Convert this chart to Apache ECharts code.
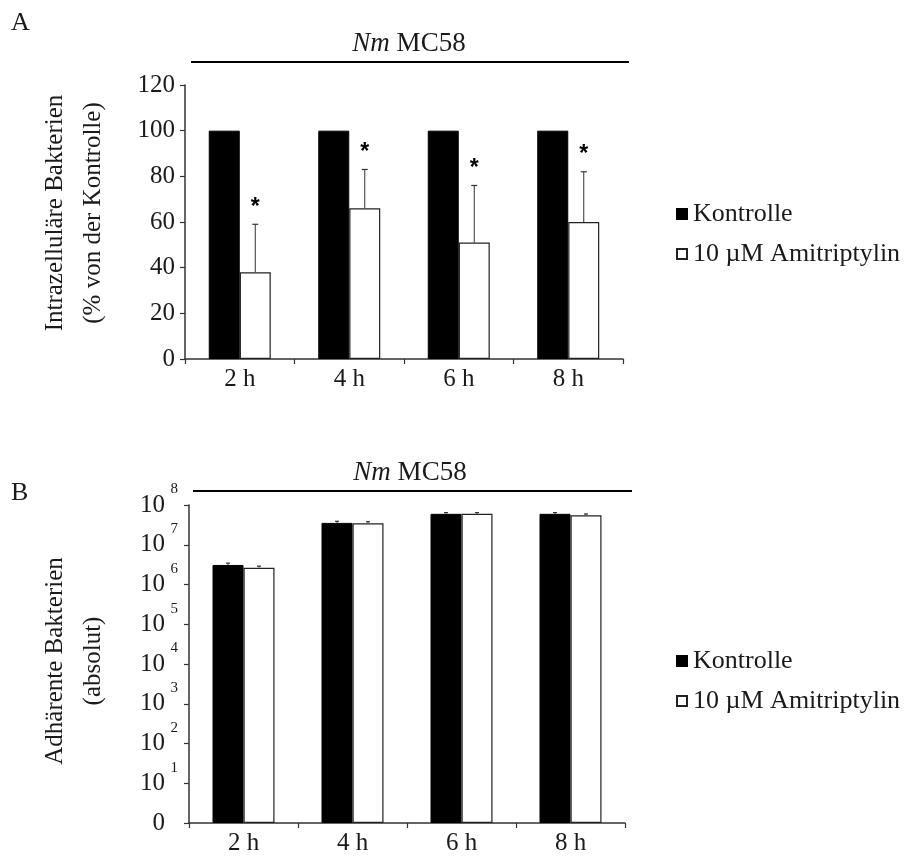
<!DOCTYPE html>
<html>
<head>
<meta charset="utf-8">
<script src="https://cdn.jsdelivr.net/npm/echarts@6/dist/echarts.min.js"></script>
<style>html,body{margin:0;padding:0;background:#fff}#c{width:911px;height:856px}</style>
</head>
<body>
<div id="c"></div>
<script>
// ---- data ----
const categories = ['2 h', '4 h', '6 h', '8 h'];
const seriesNames = ['Kontrolle', '10 µM Amitriptylin'];
// Panel A: intracellular bacteria (% of control)
const intraKontrolle = [100, 100, 100, 100];
const intraAmi = [38, 66, 51, 60];
const intraAmiSD = [21, 17, 25, 22];
const intraAmiSig = ['*', '*', '*', '*'];
const intraTicks = [0, 20, 40, 60, 80, 100, 120];
// Panel B: adherent bacteria (absolute, log scale)
const adhKontrolle = [3.1e6, 3.55e7, 6.0e7, 6.0e7];
const adhKontrolleSD = [0.35e6, 3.5e6, 4.5e6, 4.5e6];
const adhAmi = [2.65e6, 3.45e7, 6.0e7, 5.5e7];
const adhAmiSD = [0.25e6, 3.5e6, 4.5e6, 4.5e6];
const logExponents = [0, 1, 2, 3, 4, 5, 6, 7, 8];

const FONT = "'Liberation Serif', 'DejaVu Serif', serif";
const TXT = '#1a1a1a';
const BARW = 31;

function errSeries(name, xi, yi, means, sds, side, stars, capW, color) {
  return {
    name: name + ' SD', type: 'custom', xAxisIndex: xi, yAxisIndex: yi, z: 5,
    silent: true, legendHoverLink: false,
    data: means.map((m, i) => [i, m, m + sds[i]]),
    renderItem: function (params, api) {
      const p0 = api.coord([api.value(0), api.value(1)]);
      const p1 = api.coord([api.value(0), api.value(2)]);
      const x = p0[0] + side * BARW / 2;
      const children = [
        { type: 'line', shape: { x1: x, y1: p0[1], x2: x, y2: p1[1] }, style: { stroke: color, lineWidth: 1 } },
        { type: 'line', shape: { x1: x - capW / 2, y1: p1[1], x2: x + capW / 2, y2: p1[1] }, style: { stroke: color, lineWidth: 1.2 } }
      ];
      if (stars) {
        children.push({ type: 'text', x: x, y: p1[1] - 17,
          style: { text: stars[params.dataIndex], font: "bold 23px 'Liberation Sans', sans-serif", fill: '#000', align: 'center', verticalAlign: 'middle' } });
      }
      return { type: 'group', children: children };
    }
  };
}

const chart = echarts.init(document.getElementById('c'), null, { renderer: 'canvas' });

const axisLine = { show: true, lineStyle: { color: '#333', width: 1.5 } };
const catAxis = (gi) => ({
  type: 'category', gridIndex: gi, data: categories,
  axisLine: axisLine,
  axisTick: { show: true, length: 5, lineStyle: { color: '#333', width: 1.2 } },
  axisLabel: { fontFamily: FONT, fontSize: 25, color: TXT, margin: 8 },
  splitLine: { show: false }
});

const option = {
  animation: false,
  backgroundColor: '#fff',
  grid: [
    { left: 185, top: 85, width: 438, height: 274 },
    { left: 189, top: 505, width: 436, height: 322 }
  ],
  xAxis: [catAxis(0), catAxis(1)],
  yAxis: [
    {
      type: 'value', gridIndex: 0, min: intraTicks[0], max: intraTicks[intraTicks.length - 1], interval: 20,
      axisLine: axisLine,
      axisTick: { show: true, length: 5, lineStyle: { color: '#333', width: 1.2 } },
      axisLabel: { fontFamily: FONT, fontSize: 25, color: TXT, margin: 10 },
      splitLine: { show: false }
    },
    {
      type: 'log', gridIndex: 1, logBase: 10,
      min: Math.pow(10, logExponents[0]), max: Math.pow(10, logExponents[logExponents.length - 1]),
      axisLine: axisLine,
      axisTick: { show: true, length: 5, lineStyle: { color: '#333', width: 1.2 } },
      axisLabel: {
        margin: 11,
        formatter: function (v) {
          const e = Math.round(Math.log10(v));
          return e === 0 ? '{b|0}{s| }' : '{b|10}{s|' + e + '}';
        },
        rich: {
          b: { fontFamily: FONT, fontSize: 25, color: TXT, lineHeight: 46 },
          s: { fontFamily: FONT, fontSize: 15, color: TXT, verticalAlign: 'top', width: 10, padding: [0, 0, 0, 3] }
        }
      },
      splitLine: { show: false }
    }
  ],
  legend: [
    {
      data: seriesNames, orient: 'vertical', left: 671, top: 196, itemGap: 14,
      itemWidth: 10, itemHeight: 10, icon: 'rect',
      textStyle: { fontFamily: FONT, fontSize: 26, color: TXT, padding: [0, 0, 0, 1] }
    },
    {
      data: seriesNames, orient: 'vertical', left: 671, top: 643, itemGap: 14,
      itemWidth: 10, itemHeight: 10, icon: 'rect',
      textStyle: { fontFamily: FONT, fontSize: 26, color: TXT, padding: [0, 0, 0, 1] }
    }
  ],
  graphic: [
    { type: 'text', left: 11, top: 10, style: { text: 'A', font: '26px ' + FONT, fill: TXT } },
    { type: 'text', left: 11, top: 480, style: { text: 'B', font: '26px ' + FONT, fill: TXT } },
    { type: 'text', x: 409, y: 44, style: { text: '{i|Nm} MC58', rich: { i: { fontStyle: 'italic', fontFamily: FONT, fontSize: 27 } }, font: '27px ' + FONT, fill: TXT, align: 'center', verticalAlign: 'middle' } },
    { type: 'line', shape: { x1: 191, y1: 62, x2: 629, y2: 62 }, style: { stroke: '#000', lineWidth: 2 } },
    { type: 'text', x: 410, y: 473, style: { text: '{i|Nm} MC58', rich: { i: { fontStyle: 'italic', fontFamily: FONT, fontSize: 27 } }, font: '27px ' + FONT, fill: TXT, align: 'center', verticalAlign: 'middle' } },
    { type: 'line', shape: { x1: 193, y1: 491, x2: 632, y2: 491 }, style: { stroke: '#000', lineWidth: 2 } },
    { type: 'text', x: 74, y: 213, rotation: Math.PI / 2, style: { text: 'Intrazelluläre Bakterien\n(% von der Kontrolle)', font: '25px ' + FONT, fill: TXT, align: 'center', verticalAlign: 'middle', lineHeight: 38 } },
    { type: 'text', x: 74, y: 661, rotation: Math.PI / 2, style: { text: 'Adhärente Bakterien\n(absolut)', font: '25px ' + FONT, fill: TXT, align: 'center', verticalAlign: 'middle', lineHeight: 38 } }
  ],
  series: [
    { name: seriesNames[0], type: 'bar', xAxisIndex: 0, yAxisIndex: 0, data: intraKontrolle, barWidth: BARW, barGap: '0%',
      itemStyle: { color: '#000', borderColor: '#000', borderWidth: 1 } },
    { name: seriesNames[1], type: 'bar', xAxisIndex: 0, yAxisIndex: 0, data: intraAmi, barWidth: BARW, barGap: '0%',
      itemStyle: { color: '#fff', borderColor: '#222', borderWidth: 1.2 } },
    errSeries(seriesNames[1], 0, 0, intraAmi, intraAmiSD, 1, intraAmiSig, 6, '#333'),
    { name: seriesNames[0], type: 'bar', xAxisIndex: 1, yAxisIndex: 1, data: adhKontrolle, barWidth: BARW, barGap: '0%',
      itemStyle: { color: '#000', borderColor: '#000', borderWidth: 1 } },
    { name: seriesNames[1], type: 'bar', xAxisIndex: 1, yAxisIndex: 1, data: adhAmi, barWidth: BARW, barGap: '0%',
      itemStyle: { color: '#fff', borderColor: '#222', borderWidth: 1.2 } },
    errSeries(seriesNames[0], 1, 1, adhKontrolle, adhKontrolleSD, -1, null, 4, '#333'),
    errSeries(seriesNames[1], 1, 1, adhAmi, adhAmiSD, 1, null, 4, '#333')
  ]
};
chart.setOption(option);
</script>
</body>
</html>
